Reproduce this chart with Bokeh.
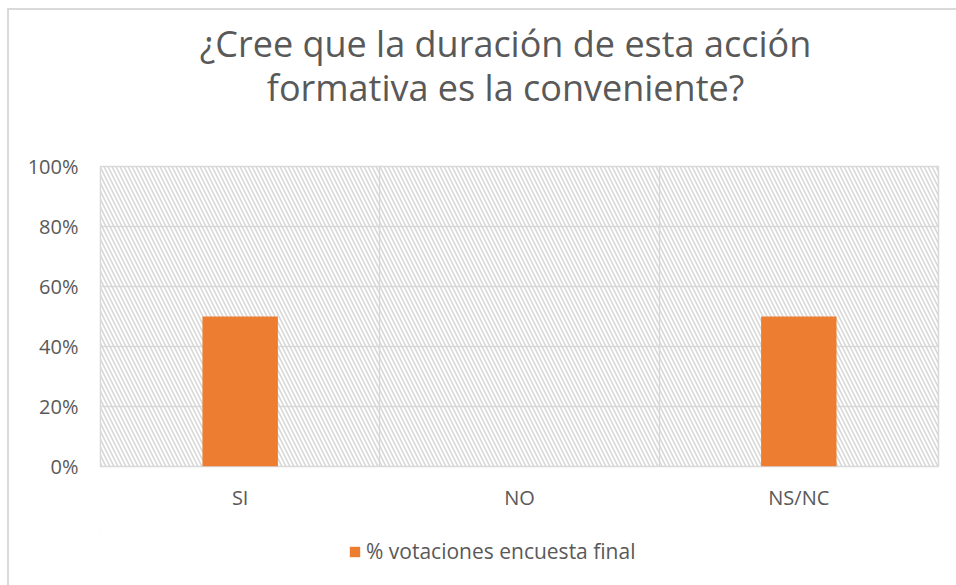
from bokeh.plotting import figure
from bokeh.layouts import column
from bokeh.models import (ColumnDataSource, FixedTicker, NumeralTickFormatter,
                          Legend, LegendItem, Range1d)
from bokeh.core.properties import value
from bokeh.embed import file_html
from bokeh.resources import INLINE

# Survey answers and their share of the final vote
categories = ["SI", "NO", "NS/NC"]
shares = [0.5, 0.0, 0.5]
series_name = "% votaciones encuesta final"
title_lines = ["¿Cree que la duración de esta acción", "formativa es la conveniente?"]
y_ticks = [0, 0.2, 0.4, 0.6, 0.8, 1.0]

FONT = "Open Sans"
TEXT = "#595959"
GRID = "#d9d9d9"
ORANGE = "#ED7D31"
W = 956
FRAME_L, FRAME_R = 100, 938   # plot-area edges shared by every strip of the column


def blank(height):
    """A strip whose data units are page pixels (y grows downward)."""
    f = figure(width=W, height=height, output_backend="svg", toolbar_location=None,
               x_range=Range1d(FRAME_L, FRAME_R), y_range=Range1d(height, 0),
               x_axis_type=None, y_axis_type=None, min_border=0)
    f.grid.visible = False
    f.outline_line_color = None
    f.background_fill_color = None
    f.border_fill_color = None
    return f


# ---- title strip
head = blank(140)
head.text(x=[505, 505], y=[43, 87], text=title_lines, text_align="center",
          text_baseline="alphabetic", text_font=value(FONT), text_font_size="36px",
          text_color=TEXT)

# ---- bar chart
xs = [i + 0.5 for i in range(len(categories))]
src = ColumnDataSource(dict(x=xs, top=shares, cat=categories))

p = figure(width=W, height=390, output_backend="svg", toolbar_location=None,
           x_range=Range1d(0, len(categories)), y_range=Range1d(0, 1),
           min_border_left=FRAME_L, min_border_right=W - FRAME_R, min_border_top=26,
           min_border_bottom=64)
p.background_fill_color = "white"
p.border_fill_color = None
p.outline_line_color = GRID
p.outline_line_width = 1.5

# hatched plot area
p.quad(left=[0], right=[len(categories)], bottom=[0], top=[1], fill_alpha=0,
       line_alpha=0, hatch_pattern="\\", hatch_color="#d6d6d6", hatch_scale=8,
       hatch_weight=1.5)

bars = p.vbar(x="x", top="top", width=0.27, source=src, fill_color=ORANGE,
              line_color=None)

p.xaxis.ticker = FixedTicker(ticks=xs)
p.xaxis.major_label_overrides = {x: c for x, c in zip(xs, categories)}
p.yaxis.ticker = FixedTicker(ticks=y_ticks)
p.yaxis.formatter = NumeralTickFormatter(format="0%")
for ax in (p.xaxis[0], p.yaxis[0]):
    ax.axis_line_color = None
    ax.major_tick_line_color = None
    ax.minor_tick_line_color = None
    ax.major_label_text_font = FONT
    ax.major_label_text_font_size = "20px"
    ax.major_label_text_color = TEXT
p.xaxis.major_label_standoff = 11
p.yaxis.major_label_standoff = 16

p.xgrid.ticker = FixedTicker(ticks=list(range(len(categories) + 1)))
p.xgrid.grid_line_color = GRID
p.xgrid.grid_line_width = 1.5
p.ygrid.ticker = FixedTicker(ticks=y_ticks)
p.ygrid.grid_line_color = GRID
p.ygrid.grid_line_width = 1.5

# ---- legend strip: the swatch renderer shares the bar data but has no width,
# so only its legend entry shows
foot = blank(55)
swatch = foot.vbar(x="x", top="top", width=0, source=src, fill_color=ORANGE,
                   line_color=None)
legend = Legend(items=[LegendItem(label=series_name, renderers=[swatch])],
                location=(348 - FRAME_L, 20), orientation="horizontal",
                label_text_font=FONT, label_text_font_size="21px",
                label_text_color=TEXT, glyph_width=13, glyph_height=13,
                label_standoff=5, padding=0, margin=0, border_line_color=None,
                background_fill_alpha=0)
foot.add_layout(legend)

# thin grey rule along the chart's top and left edges
edge = ("linear-gradient(#d9d9d9, #d9d9d9) 7px 8px / 2px 100% no-repeat, "
        "linear-gradient(#d9d9d9, #d9d9d9) 7px 8px / 100% 2px no-repeat")
page = column(head, p, foot, spacing=0, styles={"background": edge})

open("out.html", "w").write(file_html(page, INLINE))
